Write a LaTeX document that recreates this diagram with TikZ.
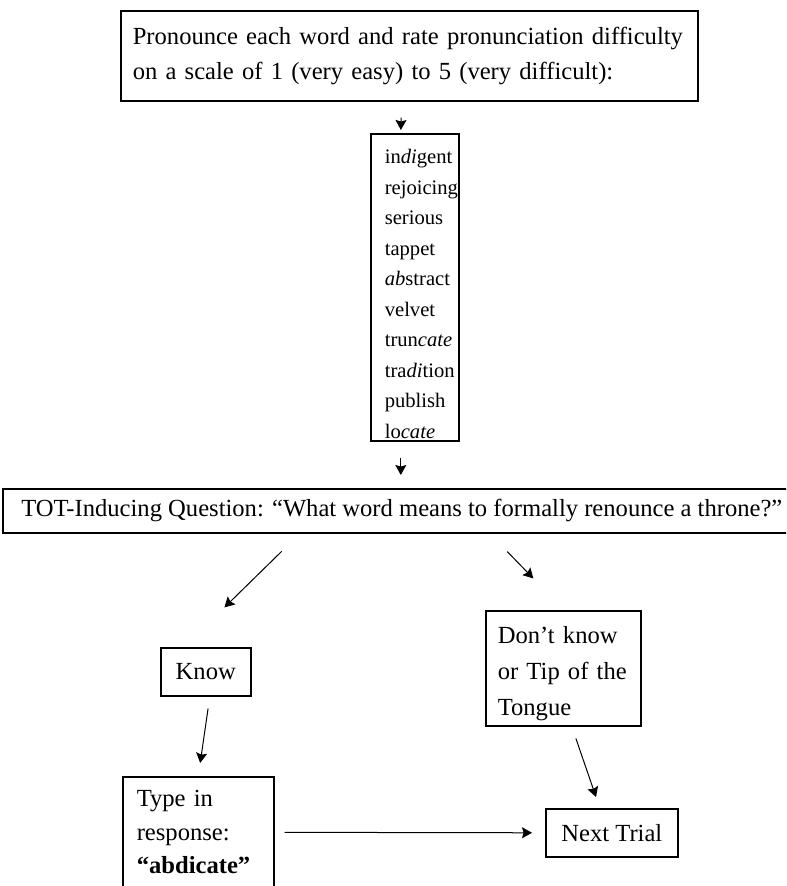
\documentclass[tikz,border=0pt]{standalone}
\usepackage{fontspec}
\setmainfont{Liberation Serif}
\usetikzlibrary{arrows.meta,calc}
\hyphenpenalty=10000
\tikzset{%
	box/.style  = {draw, line width=0.8pt, rectangle, anchor=north west, align=left, inner ysep=0pt}, % left-aligned text
	cbox/.style = {draw, line width=0.8pt, rectangle, anchor=north west, align=center, inner sep=0pt}, % centred text
	flow/.style = {line width=0.5pt, ->, >={Stealth[length=5pt,width=5.5pt,inset=0.8pt]}},
}
\begin{document}
\begin{tikzpicture}[x=0.5pt,y=-0.5pt,font=\fontsize{12.3}{15}\selectfont]
	\useasboundingbox (0,0) rectangle (786,886);
	\clip (0,0) rectangle (786,886);

	\node [box,text width=276.5pt,inner xsep=6pt,minimum height=45pt,font=\fontsize{12.3}{17.5}\selectfont] (pr) at (120,10)
		{Pronounce each word and rate pronunciation difficulty\\ on a scale of 1 (very easy) to 5 (very difficult):};
	\node [box,text width=30pt,inner xsep=7pt,minimum height=153.5pt,text height=13.8pt,font=\fontsize{10.3}{15.25}\selectfont] (wl) at (370,133)
		{in\textit{di}gent\\ rejoicing\\ serious\\ tappet\\ \textit{ab}stract\\ velvet\\ trun\textit{cate}\\ tra\textit{di}tion\\ publish\\ lo\textit{cate}};
	\node [cbox,minimum width=399pt,minimum height=22pt] (tot) at (2,488)
		{TOT-Inducing Question: “What word means to formally renounce a throne?”};
	\node [cbox,minimum width=45pt,minimum height=24pt] (know) at (160,647) {Know};
	\node [box,text width=65.5pt,inner xsep=6pt,minimum height=57.5pt,text height=14.1pt,font=\fontsize{12.3}{18}\selectfont] (dk) at (485,610)
		{Don’t know\\ or Tip of the\\ Tongue};
	\node [box,text width=61.5pt,inner xsep=7pt,minimum height=55.5pt,font=\fontsize{12.3}{16.75}\selectfont] (resp) at (122,776)
		{Type in\\ response:\\ \textbf{“abdicate”}};
	\node [cbox,minimum width=66pt,minimum height=24pt] (next) at (545,808) {Next Trial};

	\draw[flow,shorten <=8pt,shorten >=1.5pt] ($(pr.south)+(-8,0)$) -- ($(wl.north)+(-14,0)$);
	\draw[flow,shorten <=8pt,shorten >=6.5pt] ($(wl.south)+(-14,0)$) -- ($(tot.north)+(-1,0)$);
	\draw[flow,shorten <=12.7pt,shorten >=28.3pt] ($(tot.south)+(-102,0)$) -- ($(know.north west)+(24,0)$);
	\draw[flow,shorten <=12.5pt,shorten >=22pt] ($(tot.south)+(88,0)$) -- ($(dk.north west)+(79,0)$);
	\draw[flow,shorten <=6pt,shorten >=6.6pt] ($(know.south)+(4,0)$) -- (resp.north);
	\draw[flow,shorten <=6.3pt,shorten >=5.8pt] ($(dk.south)+(8.5,0)$) -- ($(next.north)+(-12,0)$);
	\draw[flow,shorten <=5pt,shorten >=6.5pt] (resp.east) -- (next.west);
\end{tikzpicture}
\end{document}
